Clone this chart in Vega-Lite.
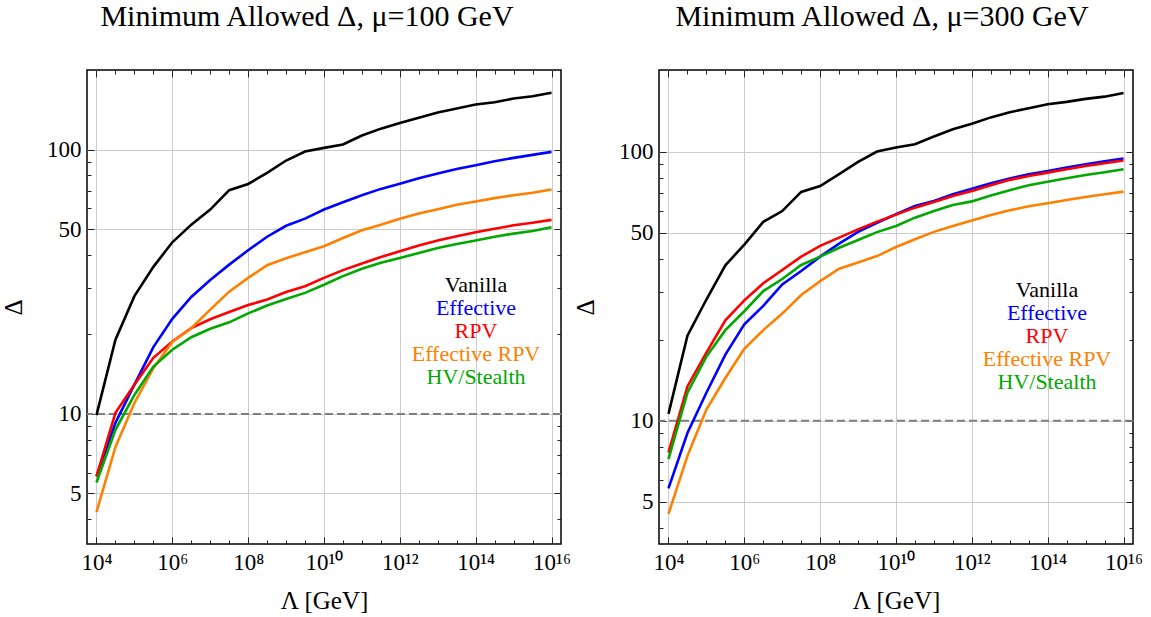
{
  "$schema": "https://vega.github.io/schema/vega-lite/v6.json",
  "background": "white",
  "padding": {"left": 0, "top": 0, "right": 0, "bottom": 0},
  "spacing": 0,
  "config": {
    "font": "Liberation Serif",
    "view": {"stroke": "black", "strokeWidth": 1.5},
    "axis": {"labelFont": "Liberation Serif", "titleFont": "Liberation Serif", "labelColor": "black", "titleColor": "black", "gridColor": "#cccccc", "gridWidth": 1, "tickColor": "#222222", "tickWidth": 1, "domain": false, "titleFontWeight": "normal"},
    "legend": {"labelFont": "Liberation Serif"},
    "title": {"font": "Liberation Serif", "fontWeight": "normal", "fontSize": 30, "color": "black"}
  },
  "resolve": {"scale": {"color": "independent"}},
  "datasets": {
    "mu100": [
      {"m": "Vanilla", "L": 1e4, "D": 9.9}, {"m": "Vanilla", "L": 3.162e4, "D": 19.1}, {"m": "Vanilla", "L": 1e5, "D": 27.9}, {"m": "Vanilla", "L": 3.162e5, "D": 36.0}, {"m": "Vanilla", "L": 1e6, "D": 44.6}, {"m": "Vanilla", "L": 3.162e6, "D": 52.0}, {"m": "Vanilla", "L": 1e7, "D": 59.3}, {"m": "Vanilla", "L": 3.162e7, "D": 70.2}, {"m": "Vanilla", "L": 1e8, "D": 74.1}, {"m": "Vanilla", "L": 3.162e8, "D": 81.6}, {"m": "Vanilla", "L": 1e9, "D": 90.9}, {"m": "Vanilla", "L": 3.162e9, "D": 98.3}, {"m": "Vanilla", "L": 1e10, "D": 101.5}, {"m": "Vanilla", "L": 3.162e10, "D": 104.5}, {"m": "Vanilla", "L": 1e11, "D": 113}, {"m": "Vanilla", "L": 3.162e11, "D": 120}, {"m": "Vanilla", "L": 1e12, "D": 126}, {"m": "Vanilla", "L": 3.162e12, "D": 132}, {"m": "Vanilla", "L": 1e13, "D": 138}, {"m": "Vanilla", "L": 3.162e13, "D": 143}, {"m": "Vanilla", "L": 1e14, "D": 148}, {"m": "Vanilla", "L": 3.162e14, "D": 151}, {"m": "Vanilla", "L": 1e15, "D": 156}, {"m": "Vanilla", "L": 3.162e15, "D": 159}, {"m": "Vanilla", "L": 1e16, "D": 164},
      {"m": "Effective", "L": 1e4, "D": 5.8}, {"m": "Effective", "L": 3.162e4, "D": 9.25}, {"m": "Effective", "L": 1e5, "D": 12.9}, {"m": "Effective", "L": 3.162e5, "D": 17.9}, {"m": "Effective", "L": 1e6, "D": 22.9}, {"m": "Effective", "L": 3.162e6, "D": 27.7}, {"m": "Effective", "L": 1e7, "D": 32.1}, {"m": "Effective", "L": 3.162e7, "D": 36.7}, {"m": "Effective", "L": 1e8, "D": 41.6}, {"m": "Effective", "L": 3.162e8, "D": 46.8}, {"m": "Effective", "L": 1e9, "D": 51.5}, {"m": "Effective", "L": 3.162e9, "D": 54.8}, {"m": "Effective", "L": 1e10, "D": 59.3}, {"m": "Effective", "L": 3.162e10, "D": 63.2}, {"m": "Effective", "L": 1e11, "D": 67.2}, {"m": "Effective", "L": 3.162e11, "D": 71.0}, {"m": "Effective", "L": 1e12, "D": 74.3}, {"m": "Effective", "L": 3.162e12, "D": 77.9}, {"m": "Effective", "L": 1e13, "D": 81.2}, {"m": "Effective", "L": 3.162e13, "D": 84.5}, {"m": "Effective", "L": 1e14, "D": 87.3}, {"m": "Effective", "L": 3.162e14, "D": 90.3}, {"m": "Effective", "L": 1e15, "D": 93.0}, {"m": "Effective", "L": 3.162e15, "D": 95.5}, {"m": "Effective", "L": 1e16, "D": 98.0},
      {"m": "RPV", "L": 1e4, "D": 5.8}, {"m": "RPV", "L": 3.162e4, "D": 10.1}, {"m": "RPV", "L": 1e5, "D": 12.9}, {"m": "RPV", "L": 3.162e5, "D": 16.3}, {"m": "RPV", "L": 1e6, "D": 18.8}, {"m": "RPV", "L": 3.162e6, "D": 21.1}, {"m": "RPV", "L": 1e7, "D": 22.8}, {"m": "RPV", "L": 3.162e7, "D": 24.3}, {"m": "RPV", "L": 1e8, "D": 25.8}, {"m": "RPV", "L": 3.162e8, "D": 27.1}, {"m": "RPV", "L": 1e9, "D": 28.9}, {"m": "RPV", "L": 3.162e9, "D": 30.4}, {"m": "RPV", "L": 1e10, "D": 32.7}, {"m": "RPV", "L": 3.162e10, "D": 35.0}, {"m": "RPV", "L": 1e11, "D": 37.1}, {"m": "RPV", "L": 3.162e11, "D": 39.2}, {"m": "RPV", "L": 1e12, "D": 41.2}, {"m": "RPV", "L": 3.162e12, "D": 43.4}, {"m": "RPV", "L": 1e13, "D": 45.3}, {"m": "RPV", "L": 3.162e13, "D": 47.0}, {"m": "RPV", "L": 1e14, "D": 48.7}, {"m": "RPV", "L": 3.162e14, "D": 50.2}, {"m": "RPV", "L": 1e15, "D": 51.7}, {"m": "RPV", "L": 3.162e15, "D": 52.9}, {"m": "RPV", "L": 1e16, "D": 54.2},
      {"m": "Effective RPV", "L": 1e4, "D": 4.25}, {"m": "Effective RPV", "L": 3.162e4, "D": 7.5}, {"m": "Effective RPV", "L": 1e5, "D": 11.0}, {"m": "Effective RPV", "L": 3.162e5, "D": 14.9}, {"m": "Effective RPV", "L": 1e6, "D": 18.7}, {"m": "Effective RPV", "L": 3.162e6, "D": 21.1}, {"m": "Effective RPV", "L": 1e7, "D": 24.8}, {"m": "Effective RPV", "L": 3.162e7, "D": 29.0}, {"m": "Effective RPV", "L": 1e8, "D": 32.7}, {"m": "Effective RPV", "L": 3.162e8, "D": 36.5}, {"m": "Effective RPV", "L": 1e9, "D": 38.8}, {"m": "Effective RPV", "L": 3.162e9, "D": 40.9}, {"m": "Effective RPV", "L": 1e10, "D": 43.1}, {"m": "Effective RPV", "L": 3.162e10, "D": 46.3}, {"m": "Effective RPV", "L": 1e11, "D": 49.5}, {"m": "Effective RPV", "L": 3.162e11, "D": 52.0}, {"m": "Effective RPV", "L": 1e12, "D": 54.7}, {"m": "Effective RPV", "L": 3.162e12, "D": 57.3}, {"m": "Effective RPV", "L": 1e13, "D": 59.5}, {"m": "Effective RPV", "L": 3.162e13, "D": 61.8}, {"m": "Effective RPV", "L": 1e14, "D": 63.6}, {"m": "Effective RPV", "L": 3.162e14, "D": 65.5}, {"m": "Effective RPV", "L": 1e15, "D": 67.2}, {"m": "Effective RPV", "L": 3.162e15, "D": 68.7}, {"m": "Effective RPV", "L": 1e16, "D": 70.6},
      {"m": "HV/Stealth", "L": 1e4, "D": 5.5}, {"m": "HV/Stealth", "L": 3.162e4, "D": 8.7}, {"m": "HV/Stealth", "L": 1e5, "D": 11.8}, {"m": "HV/Stealth", "L": 3.162e5, "D": 15.1}, {"m": "HV/Stealth", "L": 1e6, "D": 17.5}, {"m": "HV/Stealth", "L": 3.162e6, "D": 19.5}, {"m": "HV/Stealth", "L": 1e7, "D": 21.0}, {"m": "HV/Stealth", "L": 3.162e7, "D": 22.2}, {"m": "HV/Stealth", "L": 1e8, "D": 24.0}, {"m": "HV/Stealth", "L": 3.162e8, "D": 25.7}, {"m": "HV/Stealth", "L": 1e9, "D": 27.2}, {"m": "HV/Stealth", "L": 3.162e9, "D": 28.7}, {"m": "HV/Stealth", "L": 1e10, "D": 30.8}, {"m": "HV/Stealth", "L": 3.162e10, "D": 33.2}, {"m": "HV/Stealth", "L": 1e11, "D": 35.4}, {"m": "HV/Stealth", "L": 3.162e11, "D": 37.3}, {"m": "HV/Stealth", "L": 1e12, "D": 38.9}, {"m": "HV/Stealth", "L": 3.162e12, "D": 40.6}, {"m": "HV/Stealth", "L": 1e13, "D": 42.4}, {"m": "HV/Stealth", "L": 3.162e13, "D": 43.9}, {"m": "HV/Stealth", "L": 1e14, "D": 45.3}, {"m": "HV/Stealth", "L": 3.162e14, "D": 46.8}, {"m": "HV/Stealth", "L": 1e15, "D": 48.1}, {"m": "HV/Stealth", "L": 3.162e15, "D": 49.2}, {"m": "HV/Stealth", "L": 1e16, "D": 50.8}
    ],
    "mu300": [
      {"m": "Vanilla", "L": 1e4, "D": 10.6}, {"m": "Vanilla", "L": 3.162e4, "D": 20.7}, {"m": "Vanilla", "L": 1e5, "D": 28.2}, {"m": "Vanilla", "L": 3.162e5, "D": 37.8}, {"m": "Vanilla", "L": 1e6, "D": 45.1}, {"m": "Vanilla", "L": 3.162e6, "D": 54.8}, {"m": "Vanilla", "L": 1e7, "D": 60.1}, {"m": "Vanilla", "L": 3.162e7, "D": 70.8}, {"m": "Vanilla", "L": 1e8, "D": 74.5}, {"m": "Vanilla", "L": 3.162e8, "D": 82.4}, {"m": "Vanilla", "L": 1e9, "D": 91.5}, {"m": "Vanilla", "L": 3.162e9, "D": 100}, {"m": "Vanilla", "L": 1e10, "D": 103.5}, {"m": "Vanilla", "L": 3.162e10, "D": 106.5}, {"m": "Vanilla", "L": 1e11, "D": 113.7}, {"m": "Vanilla", "L": 3.162e11, "D": 121}, {"m": "Vanilla", "L": 1e12, "D": 127}, {"m": "Vanilla", "L": 3.162e12, "D": 134}, {"m": "Vanilla", "L": 1e13, "D": 140}, {"m": "Vanilla", "L": 3.162e13, "D": 145}, {"m": "Vanilla", "L": 1e14, "D": 150}, {"m": "Vanilla", "L": 3.162e14, "D": 153}, {"m": "Vanilla", "L": 1e15, "D": 157}, {"m": "Vanilla", "L": 3.162e15, "D": 160}, {"m": "Vanilla", "L": 1e16, "D": 165},
      {"m": "Effective", "L": 1e4, "D": 5.6}, {"m": "Effective", "L": 3.162e4, "D": 9.0}, {"m": "Effective", "L": 1e5, "D": 12.7}, {"m": "Effective", "L": 3.162e5, "D": 17.6}, {"m": "Effective", "L": 1e6, "D": 22.8}, {"m": "Effective", "L": 3.162e6, "D": 26.7}, {"m": "Effective", "L": 1e7, "D": 32.1}, {"m": "Effective", "L": 3.162e7, "D": 36.0}, {"m": "Effective", "L": 1e8, "D": 40.7}, {"m": "Effective", "L": 3.162e8, "D": 45.5}, {"m": "Effective", "L": 1e9, "D": 50.3}, {"m": "Effective", "L": 3.162e9, "D": 54.4}, {"m": "Effective", "L": 1e10, "D": 58.5}, {"m": "Effective", "L": 3.162e10, "D": 62.8}, {"m": "Effective", "L": 1e11, "D": 65.5}, {"m": "Effective", "L": 3.162e11, "D": 69.4}, {"m": "Effective", "L": 1e12, "D": 72.8}, {"m": "Effective", "L": 3.162e12, "D": 76.2}, {"m": "Effective", "L": 1e13, "D": 79.4}, {"m": "Effective", "L": 3.162e13, "D": 82.4}, {"m": "Effective", "L": 1e14, "D": 84.7}, {"m": "Effective", "L": 3.162e14, "D": 87.2}, {"m": "Effective", "L": 1e15, "D": 89.7}, {"m": "Effective", "L": 3.162e15, "D": 92.0}, {"m": "Effective", "L": 1e16, "D": 94.2},
      {"m": "RPV", "L": 1e4, "D": 7.6}, {"m": "RPV", "L": 3.162e4, "D": 13.4}, {"m": "RPV", "L": 1e5, "D": 17.9}, {"m": "RPV", "L": 3.162e5, "D": 23.6}, {"m": "RPV", "L": 1e6, "D": 28.0}, {"m": "RPV", "L": 3.162e6, "D": 32.4}, {"m": "RPV", "L": 1e7, "D": 36.3}, {"m": "RPV", "L": 3.162e7, "D": 40.7}, {"m": "RPV", "L": 1e8, "D": 44.6}, {"m": "RPV", "L": 3.162e8, "D": 47.9}, {"m": "RPV", "L": 1e9, "D": 51.4}, {"m": "RPV", "L": 3.162e9, "D": 54.9}, {"m": "RPV", "L": 1e10, "D": 58.3}, {"m": "RPV", "L": 3.162e10, "D": 61.9}, {"m": "RPV", "L": 1e11, "D": 65.0}, {"m": "RPV", "L": 3.162e11, "D": 68.4}, {"m": "RPV", "L": 1e12, "D": 71.4}, {"m": "RPV", "L": 3.162e12, "D": 75.0}, {"m": "RPV", "L": 1e13, "D": 78.5}, {"m": "RPV", "L": 3.162e13, "D": 81.2}, {"m": "RPV", "L": 1e14, "D": 83.5}, {"m": "RPV", "L": 3.162e14, "D": 86.0}, {"m": "RPV", "L": 1e15, "D": 88.4}, {"m": "RPV", "L": 3.162e15, "D": 90.5}, {"m": "RPV", "L": 1e16, "D": 92.6},
      {"m": "Effective RPV", "L": 1e4, "D": 4.5}, {"m": "Effective RPV", "L": 3.162e4, "D": 7.4}, {"m": "Effective RPV", "L": 1e5, "D": 11.0}, {"m": "Effective RPV", "L": 3.162e5, "D": 14.4}, {"m": "Effective RPV", "L": 1e6, "D": 18.5}, {"m": "Effective RPV", "L": 3.162e6, "D": 21.7}, {"m": "Effective RPV", "L": 1e7, "D": 25.0}, {"m": "Effective RPV", "L": 3.162e7, "D": 29.3}, {"m": "Effective RPV", "L": 1e8, "D": 33.0}, {"m": "Effective RPV", "L": 3.162e8, "D": 36.7}, {"m": "Effective RPV", "L": 1e9, "D": 38.7}, {"m": "Effective RPV", "L": 3.162e9, "D": 40.9}, {"m": "Effective RPV", "L": 1e10, "D": 44.2}, {"m": "Effective RPV", "L": 3.162e10, "D": 47.2}, {"m": "Effective RPV", "L": 1e11, "D": 50.3}, {"m": "Effective RPV", "L": 3.162e11, "D": 52.9}, {"m": "Effective RPV", "L": 1e12, "D": 55.5}, {"m": "Effective RPV", "L": 3.162e12, "D": 58.1}, {"m": "Effective RPV", "L": 1e13, "D": 60.5}, {"m": "Effective RPV", "L": 3.162e13, "D": 62.6}, {"m": "Effective RPV", "L": 1e14, "D": 64.3}, {"m": "Effective RPV", "L": 3.162e14, "D": 66.1}, {"m": "Effective RPV", "L": 1e15, "D": 67.8}, {"m": "Effective RPV", "L": 3.162e15, "D": 69.4}, {"m": "Effective RPV", "L": 1e16, "D": 71.0},
      {"m": "HV/Stealth", "L": 1e4, "D": 7.2}, {"m": "HV/Stealth", "L": 3.162e4, "D": 12.7}, {"m": "HV/Stealth", "L": 1e5, "D": 17.3}, {"m": "HV/Stealth", "L": 3.162e5, "D": 21.7}, {"m": "HV/Stealth", "L": 1e6, "D": 25.5}, {"m": "HV/Stealth", "L": 3.162e6, "D": 30.3}, {"m": "HV/Stealth", "L": 1e7, "D": 33.6}, {"m": "HV/Stealth", "L": 3.162e7, "D": 37.9}, {"m": "HV/Stealth", "L": 1e8, "D": 40.7}, {"m": "HV/Stealth", "L": 3.162e8, "D": 43.9}, {"m": "HV/Stealth", "L": 1e9, "D": 46.9}, {"m": "HV/Stealth", "L": 3.162e9, "D": 50.2}, {"m": "HV/Stealth", "L": 1e10, "D": 52.9}, {"m": "HV/Stealth", "L": 3.162e10, "D": 56.8}, {"m": "HV/Stealth", "L": 1e11, "D": 60.1}, {"m": "HV/Stealth", "L": 3.162e11, "D": 63.3}, {"m": "HV/Stealth", "L": 1e12, "D": 65.3}, {"m": "HV/Stealth", "L": 3.162e12, "D": 68.7}, {"m": "HV/Stealth", "L": 1e13, "D": 71.9}, {"m": "HV/Stealth", "L": 3.162e13, "D": 75.0}, {"m": "HV/Stealth", "L": 1e14, "D": 77.3}, {"m": "HV/Stealth", "L": 3.162e14, "D": 79.6}, {"m": "HV/Stealth", "L": 1e15, "D": 81.9}, {"m": "HV/Stealth", "L": 3.162e15, "D": 83.8}, {"m": "HV/Stealth", "L": 1e16, "D": 86.0}
    ]
  },
  "hconcat": [
    {
      "width": 474, "height": 474,
      "title": {"text": "Minimum Allowed Δ, μ=100 GeV", "anchor": "middle", "dx": -17, "offset": 38},
      "data": {"name": "mu100"},
      "resolve": {"axis": {"x": "independent", "y": "independent"}},
      "layer": [
        {
          "mark": {"type": "point", "opacity": 0},
          "encoding": {
            "x": {"field": "L", "type": "quantitative", "scale": {"type": "log", "domain": [5623.4, 1.7783e16], "nice": false},
              "axis": {"orient": "bottom", "values": [1e4, 1e6, 1e8, 1e10, 1e12, 1e14, 1e16], "ticks": false, "grid": true, "labelFontSize": 23, "labelPadding": 7, "labelExpr": "'10' + ['⁴','⁶','⁸','¹⁰','¹²','¹⁴','¹⁶'][round((log(datum.value)/LN10-4)/2)]", "title": "Λ [GeV]", "titleFontSize": 25, "titlePadding": 14}},
            "y": {"field": "D", "type": "quantitative", "scale": {"type": "log", "domain": [3.22, 200], "nice": false},
              "axis": {"orient": "left", "values": [5, 10, 50, 100], "ticks": false, "grid": true, "labelFontSize": 23, "labelPadding": 6, "format": "d", "title": "Δ", "titleFontSize": 25, "titlePadding": 20}}
          }
        },
        {
          "mark": {"type": "point", "opacity": 0},
          "encoding": {
            "x": {"field": "L", "type": "quantitative", "axis": {"orient": "bottom", "values": [1e4, 1e6, 1e8, 1e10, 1e12, 1e14, 1e16], "labels": false, "grid": false, "tickSize": -7, "title": null}},
            "y": {"field": "D", "type": "quantitative", "axis": {"orient": "left", "values": [5, 10, 50, 100], "labels": false, "grid": false, "tickSize": -7, "title": null}}
          }
        },
        {
          "mark": {"type": "point", "opacity": 0},
          "encoding": {
            "x": {"field": "L", "type": "quantitative", "axis": {"orient": "bottom", "values": [3.162e4, 1e5, 3.162e5, 3.162e6, 1e7, 3.162e7, 3.162e8, 1e9, 3.162e9, 3.162e10, 1e11, 3.162e11, 3.162e12, 1e13, 3.162e13, 3.162e14, 1e15, 3.162e15], "labels": false, "grid": false, "tickSize": -4, "title": null}},
            "y": {"field": "D", "type": "quantitative", "axis": {"orient": "left", "values": [4, 6, 7, 8, 9, 20, 30, 40, 60, 70, 80, 90], "labels": false, "grid": false, "tickSize": -4, "title": null}}
          }
        },
        {
          "mark": {"type": "point", "opacity": 0},
          "encoding": {
            "x": {"field": "L", "type": "quantitative", "axis": {"orient": "top", "values": [1e4, 1e6, 1e8, 1e10, 1e12, 1e14, 1e16], "labels": false, "grid": false, "tickSize": -7, "title": null}},
            "y": {"field": "D", "type": "quantitative", "axis": {"orient": "right", "values": [5, 10, 50, 100], "labels": false, "grid": false, "tickSize": -7, "title": null}}
          }
        },
        {
          "mark": {"type": "point", "opacity": 0},
          "encoding": {
            "x": {"field": "L", "type": "quantitative", "axis": {"orient": "top", "values": [3.162e4, 1e5, 3.162e5, 3.162e6, 1e7, 3.162e7, 3.162e8, 1e9, 3.162e9, 3.162e10, 1e11, 3.162e11, 3.162e12, 1e13, 3.162e13, 3.162e14, 1e15, 3.162e15], "labels": false, "grid": false, "tickSize": -4, "title": null}},
            "y": {"field": "D", "type": "quantitative", "axis": {"orient": "right", "values": [4, 6, 7, 8, 9, 20, 30, 40, 60, 70, 80, 90], "labels": false, "grid": false, "tickSize": -4, "title": null}}
          }
        },
        {
          "data": {"values": [{"D": 10}]},
          "mark": {"type": "rule", "color": "#808080", "strokeDash": [8, 4], "strokeWidth": 2},
          "encoding": {"y": {"field": "D", "type": "quantitative", "axis": null}}
        },
        {
          "mark": {"type": "line", "strokeWidth": 2.6},
          "encoding": {
            "x": {"field": "L", "type": "quantitative", "axis": null},
            "y": {"field": "D", "type": "quantitative", "axis": null},
            "color": {"field": "m", "type": "nominal",
              "scale": {"domain": ["Vanilla", "Effective", "RPV", "Effective RPV", "HV/Stealth"], "range": ["#000000", "#0000ff", "#ff0000", "#ff8000", "#00a800"]},
              "legend": {"orient": "none", "legendX": 367, "legendY": 204, "title": null, "symbolSize": 0, "symbolOpacity": 0, "symbolStrokeWidth": 0, "labelOffset": 0, "labelAlign": "center", "labelFont": "Liberation Serif", "labelFontSize": 22, "rowPadding": 1,
                "encode": {"labels": {"update": {"fill": {"signal": "datum.value === 'Vanilla' ? '#000000' : datum.value === 'Effective' ? '#0000ff' : datum.value === 'RPV' ? '#ff0000' : datum.value === 'Effective RPV' ? '#ff8000' : '#00a800'"}}}}}
            }
          }
        }
      ]
    },
    {
      "width": 474, "height": 474,
      "title": {"text": "Minimum Allowed Δ, μ=300 GeV", "anchor": "middle", "dx": -14, "offset": 38},
      "data": {"name": "mu300"},
      "resolve": {"axis": {"x": "independent", "y": "independent"}},
      "layer": [
        {
          "mark": {"type": "point", "opacity": 0},
          "encoding": {
            "x": {"field": "L", "type": "quantitative", "scale": {"type": "log", "domain": [5623.4, 1.7783e16], "nice": false},
              "axis": {"orient": "bottom", "values": [1e4, 1e6, 1e8, 1e10, 1e12, 1e14, 1e16], "ticks": false, "grid": true, "labelFontSize": 23, "labelPadding": 7, "labelExpr": "'10' + ['⁴','⁶','⁸','¹⁰','¹²','¹⁴','¹⁶'][round((log(datum.value)/LN10-4)/2)]", "title": "Λ [GeV]", "titleFontSize": 25, "titlePadding": 14}},
            "y": {"field": "D", "type": "quantitative", "scale": {"type": "log", "domain": [3.48, 201], "nice": false},
              "axis": {"orient": "left", "values": [5, 10, 50, 100], "ticks": false, "grid": true, "labelFontSize": 23, "labelPadding": 6, "format": "d", "title": "Δ", "titleFontSize": 25, "titlePadding": 20}}
          }
        },
        {
          "mark": {"type": "point", "opacity": 0},
          "encoding": {
            "x": {"field": "L", "type": "quantitative", "axis": {"orient": "bottom", "values": [1e4, 1e6, 1e8, 1e10, 1e12, 1e14, 1e16], "labels": false, "grid": false, "tickSize": -7, "title": null}},
            "y": {"field": "D", "type": "quantitative", "axis": {"orient": "left", "values": [5, 10, 50, 100], "labels": false, "grid": false, "tickSize": -7, "title": null}}
          }
        },
        {
          "mark": {"type": "point", "opacity": 0},
          "encoding": {
            "x": {"field": "L", "type": "quantitative", "axis": {"orient": "bottom", "values": [3.162e4, 1e5, 3.162e5, 3.162e6, 1e7, 3.162e7, 3.162e8, 1e9, 3.162e9, 3.162e10, 1e11, 3.162e11, 3.162e12, 1e13, 3.162e13, 3.162e14, 1e15, 3.162e15], "labels": false, "grid": false, "tickSize": -4, "title": null}},
            "y": {"field": "D", "type": "quantitative", "axis": {"orient": "left", "values": [4, 6, 7, 8, 9, 20, 30, 40, 60, 70, 80, 90], "labels": false, "grid": false, "tickSize": -4, "title": null}}
          }
        },
        {
          "mark": {"type": "point", "opacity": 0},
          "encoding": {
            "x": {"field": "L", "type": "quantitative", "axis": {"orient": "top", "values": [1e4, 1e6, 1e8, 1e10, 1e12, 1e14, 1e16], "labels": false, "grid": false, "tickSize": -7, "title": null}},
            "y": {"field": "D", "type": "quantitative", "axis": {"orient": "right", "values": [5, 10, 50, 100], "labels": false, "grid": false, "tickSize": -7, "title": null}}
          }
        },
        {
          "mark": {"type": "point", "opacity": 0},
          "encoding": {
            "x": {"field": "L", "type": "quantitative", "axis": {"orient": "top", "values": [3.162e4, 1e5, 3.162e5, 3.162e6, 1e7, 3.162e7, 3.162e8, 1e9, 3.162e9, 3.162e10, 1e11, 3.162e11, 3.162e12, 1e13, 3.162e13, 3.162e14, 1e15, 3.162e15], "labels": false, "grid": false, "tickSize": -4, "title": null}},
            "y": {"field": "D", "type": "quantitative", "axis": {"orient": "right", "values": [4, 6, 7, 8, 9, 20, 30, 40, 60, 70, 80, 90], "labels": false, "grid": false, "tickSize": -4, "title": null}}
          }
        },
        {
          "data": {"values": [{"D": 10}]},
          "mark": {"type": "rule", "color": "#808080", "strokeDash": [8, 4], "strokeWidth": 2},
          "encoding": {"y": {"field": "D", "type": "quantitative", "axis": null}}
        },
        {
          "mark": {"type": "line", "strokeWidth": 2.6},
          "encoding": {
            "x": {"field": "L", "type": "quantitative", "axis": null},
            "y": {"field": "D", "type": "quantitative", "axis": null},
            "color": {"field": "m", "type": "nominal",
              "scale": {"domain": ["Vanilla", "Effective", "RPV", "Effective RPV", "HV/Stealth"], "range": ["#000000", "#0000ff", "#ff0000", "#ff8000", "#00a800"]},
              "legend": {"orient": "none", "legendX": 366, "legendY": 209, "title": null, "symbolSize": 0, "symbolOpacity": 0, "symbolStrokeWidth": 0, "labelOffset": 0, "labelAlign": "center", "labelFont": "Liberation Serif", "labelFontSize": 22, "rowPadding": 1,
                "encode": {"labels": {"update": {"fill": {"signal": "datum.value === 'Vanilla' ? '#000000' : datum.value === 'Effective' ? '#0000ff' : datum.value === 'RPV' ? '#ff0000' : datum.value === 'Effective RPV' ? '#ff8000' : '#00a800'"}}}}}
            }
          }
        }
      ]
    }
  ]
}
